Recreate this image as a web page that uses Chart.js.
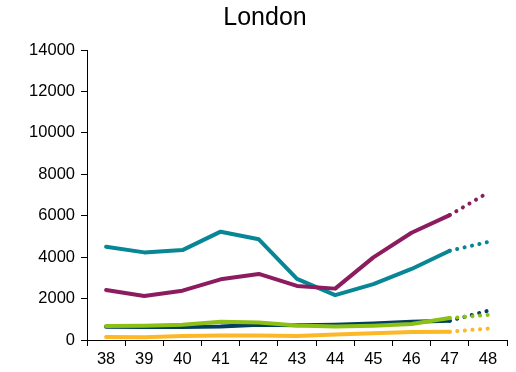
<!DOCTYPE html>
<html><head><meta charset="utf-8">
<script src="https://cdn.jsdelivr.net/npm/chart.js@4"></script>
<style>html,body{margin:0;padding:0;background:#fff}#c{display:block}</style>
</head><body>
<div style="width:516px;height:372px"><canvas id="c" width="516" height="372"></canvas></div>
<script>
const categories = ['38','39','40','41','42','43','44','45','46','47','48'];
const yTicks = [0,2000,4000,6000,8000,10000,12000,14000];
const seriesPurple = [2410,2120,2380,2930,3190,2610,2480,3990,5180,6030,7110];
const seriesTeal   = [4500,4230,4340,5230,4860,2950,2170,2700,3430,4310,4730];
const seriesGreen  = [680,690,740,880,850,700,650,690,770,1060,1210];
const seriesNavy   = [640,630,630,650,740,710,740,800,880,930,1410];
const seriesYellow = [140,130,190,220,220,190,260,320,390,400,550];
const titleText = 'London';

const dotted = ctx => ctx.p0DataIndex === 9 ? [0.1, 7.5] : undefined;
function ds(data, color){
  return {data, borderColor: color, borderWidth: 4, pointRadius: 0, tension: 0,
    borderCapStyle: 'round', borderJoinStyle: 'round', fill: false,
    segment: {borderDash: dotted}};
}
const titlePlugin = {
  id: 'titleAt',
  afterDraw(chart){
    const c = chart.ctx;
    c.save();
    c.font = '25px "Liberation Sans", Arial, sans-serif';
    c.fillStyle = '#000';
    c.textAlign = 'center';
    c.textBaseline = 'middle';
    c.fillText(titleText, 265, 18);
    c.restore();
  }
};
new Chart(document.getElementById('c'), {
  type: 'line',
  data: {
    labels: categories,
    datasets: [
      ds(seriesYellow, '#FDB827'),
      ds(seriesGreen, '#8CC015'),
      ds(seriesNavy, '#033F5E'),
      ds(seriesPurple, '#8C1C5F'),
      ds(seriesTeal, '#078695')
    ]
  },
  plugins: [titlePlugin],
  options: {
    responsive: false, animation: false,
    layout: {padding: {top: 50, right: 9, left: 0, bottom: 0}},
    plugins: {
      legend: {display: false}, tooltip: {enabled: false},
      title: {display: false}
    },
    scales: {
      x: {
        offset: true,
        grid: {display: true, offset: true, drawOnChartArea: false, color: '#000', tickLength: 6},
        border: {color: '#000', width: 1},
        ticks: {color: '#000', font: {family: 'Liberation Sans', size: 16.5}, padding: 4, maxRotation: 0},
        afterFit: s => { s.height = 32; }
      },
      y: {
        min: 0, max: 14000,
        afterBuildTicks: s => { s.ticks = yTicks.map(v => ({value: v})); },
        grid: {display: true, drawOnChartArea: false, color: '#000', tickLength: 6},
        border: {color: '#000', width: 1},
        ticks: {color: '#000', font: {family: 'Liberation Sans', size: 16.5}, padding: 6,
          callback: v => String(v)},
        afterFit: s => { s.width = 87; }
      }
    }
  }
});
</script>
</body></html>
